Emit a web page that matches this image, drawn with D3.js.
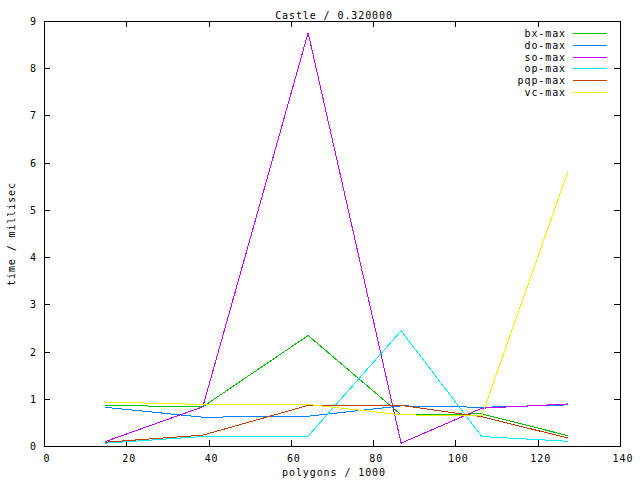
<!DOCTYPE html>
<html><head><meta charset="utf-8">
<script src="https://cdn.jsdelivr.net/npm/d3@7"></script>
<style>
body{margin:0;background:#fff;}
text{font-family:"DejaVu Sans Mono",monospace;font-size:10px;letter-spacing:0.9px;fill:#000;}
</style></head>
<body>
<svg id="c" width="640" height="480"></svg>
<script>
const polygons = [14.8, 38.6, 64.2, 86.8, 106.4, 127.3];
const bxMax  = [0.86, 0.83, 2.34, 0.66, 0.68, 0.22];
const doMax  = [0.82, 0.61, 0.63, 0.85, 0.82, 0.87];
const soMax  = [0.09, 0.83, 8.75, 0.06, 0.80, 0.89];
const opMax  = [0.06, 0.20, 0.21, 2.44, 0.20, 0.10];
const pqpMax = [0.08, 0.23, 0.86, 0.86, 0.62, 0.17];
const vcMax  = [0.93, 0.88, 0.88, 0.66, 0.64, 5.80];
const seriesNames = ["bx-max","do-max","so-max","op-max","pqp-max","vc-max"];
const seriesColors = ["#00c000","#0080ff","#c000ff","#00eeee","#c04000","#eeee00"];
const xTicks = [0,20,40,60,80,100,120,140];
const yTicks = [0,1,2,3,4,5,6,7,8,9];
const title = "Castle / 0.320000";
const xLabel = "polygons / 1000";
const yLabel = "time / millisec";

const series = [bxMax, doMax, soMax, opMax, pqpMax, vcMax];
const L=44, R=620, T=21, B=446;
const svg = d3.select("#c");
const x = d3.scaleLinear().domain([0,140]).range([L,R]);
const y = d3.scaleLinear().domain([0,9]).range([B,T]);

// border
svg.append("rect").attr("x",L+0.5).attr("y",T+0.5).attr("width",R-L).attr("height",B-T)
  .attr("fill","none").attr("stroke","#000").attr("stroke-width",1).attr("shape-rendering","crispEdges");

// ticks (inward, mirrored)
const tk = 6;
const tg = svg.append("g").attr("stroke","#000").attr("shape-rendering","crispEdges");
xTicks.forEach(v=>{
  const px = Math.round(x(v))+0.5;
  tg.append("line").attr("x1",px).attr("x2",px).attr("y1",B).attr("y2",B-tk);
  tg.append("line").attr("x1",px).attr("x2",px).attr("y1",T).attr("y2",T+tk);
  svg.append("text").attr("x",x(v)+3).attr("y",B+16).attr("text-anchor","middle").text(v);
});
yTicks.forEach(v=>{
  const py = Math.round(y(v))+0.5;
  tg.append("line").attr("x1",L).attr("x2",L+tk).attr("y1",py).attr("y2",py);
  tg.append("line").attr("x1",R).attr("x2",R-tk).attr("y1",py).attr("y2",py);
  svg.append("text").attr("x",L-7).attr("y",y(v)+4).attr("text-anchor","end").text(v);
});

// title & labels
svg.append("text").attr("x",(L+R)/2+2).attr("y",19).attr("text-anchor","middle").text(title);
svg.append("text").attr("x",(L+R)/2+2).attr("y",476).attr("text-anchor","middle").text(xLabel);
svg.append("text").attr("transform","translate(15,234) rotate(-90)").attr("text-anchor","middle").text(yLabel);

// lines
const line = d3.line().x((d,i)=>x(polygons[i])).y(d=>y(d));
series.forEach((s,i)=>{
  svg.append("path").datum(s).attr("d",line).attr("fill","none")
    .attr("stroke",seriesColors[i]).attr("stroke-width",1).attr("shape-rendering","crispEdges");
});

// legend
seriesNames.forEach((n,i)=>{
  const ly = Math.round(33 + i*11.8);
  svg.append("text").attr("x",566).attr("y",ly+4).attr("text-anchor","end").text(n);
  svg.append("rect").attr("x",573).attr("y",ly).attr("width",34).attr("height",1)
    .attr("fill",seriesColors[i]);
});
</script>
</body></html>
